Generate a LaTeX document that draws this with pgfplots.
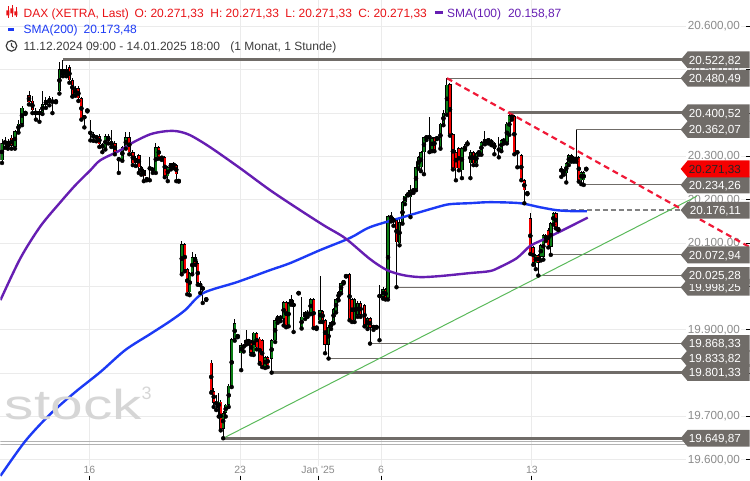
\documentclass[border=0pt]{standalone}
\usepackage{pgfplots}
\usepackage{pgfplotstable}
\pgfplotsset{compat=1.18}
\usepackage{fontspec}
\setmainfont{Liberation Sans}

\definecolor{bull}{RGB}{10,125,20}
\definecolor{bear}{RGB}{245,0,0}
\definecolor{lvl}{RGB}{112,108,104}
\definecolor{smaA}{RGB}{102,30,178}
\definecolor{smaB}{RGB}{28,58,245}
\definecolor{trendred}{RGB}{240,25,55}
\definecolor{trendgreen}{RGB}{90,185,90}
\definecolor{ticktext}{RGB}{140,140,140}
\definecolor{hdrred}{RGB}{232,18,22}
\definecolor{hdrgray}{RGB}{60,60,60}
\definecolor{wmark}{RGB}{214,214,214}
\definecolor{smadash}{RGB}{130,130,130}

\newcommand\lab{\fontsize{11.7bp}{13bp}\selectfont}
\newcommand\hdr{\fontsize{12bp}{14bp}\selectfont}

% hourly candles, x = horizontal position on the time axis
\pgfplotstableread{
x o h l c
1.5 20291 20340 20285 20330
4.5 20330 20345 20320 20335
14.5 20323 20362 20318 20358
18 20358 20385 20355 20376
21.5 20376 20416 20372 20413
25 20400 20403 20398 20401
42 20402 20452 20398 20420
45.5 20418 20438 20412 20430
52 20423 20436 20400 20430
55.5 20427 20429 20425 20427
59 20450 20519 20445 20501
66 20489 20510 20485 20502
75 20443 20462 20440 20457
84 20388 20396 20367 20393
87 20406 20408 20404 20406
96 20342 20350 20335 20347
105 20319 20352 20316 20347
122 20293 20325 20290 20321
125.5 20321 20356 20318 20344
135.5 20284 20300 20278 20296
155.5 20266 20331 20262 20321
167.5 20254 20278 20243 20275
170.5 20273 20286 20270 20284
181.5 20031 20105 20028 20098
189.5 19987 20034 19980 20031
192 20031 20080 20028 20068
216 19727 19750 19715 19734
218.5 19720 19755 19700 19734
223 19671 19712 19649.87 19708
225.5 19708 19730 19700 19727
228.5 19727 19774 19722 19771
231.5 19771 19882 19768 19879
234.5 19879 19925 19875 19916
241 19846 19870 19807 19865
246 19869 19899 19866 19876
248.5 19872 19880 19868 19876
253.5 19847 19896 19842 19893
265 19814 19840 19812 19837
271.5 19833 19880 19801.33 19876
275 19876 19925 19872 19922
277.5 19920 19935 19916 19932
280.5 19925 19934 19920 19931
283.5 19927 19967 19910 19964
288.5 19911 19965 19908 19962
298.5 19985 19986 19984 19985
301.5 19906 19976 19903 19930
305 19930 19944 19925 19941
307.5 19934 19945 19930 19941
310.5 19939 19974 19936 19971
320 19922 20024 19918 19946
328.5 19865 19910 19833.82 19906
331 19906 19920 19902 19918
333.5 19918 19950 19915 19948
336 19943 19973 19940 19971
338.5 19971 19990 19968 19987
341 19987 20011 19984 20008
343.5 20010 20012 20007 20010
346 20024 20025 20023 20024
354.5 19922 19974 19918 19971
357.5 19934 19966 19930 19962
367.5 19906 19930 19902 19927
373.5 19904 19912 19900 19909
383 19976 19998 19972 19994
388 19973 20165 19970 20162
399.5 20100 20160 20095 20148
402.5 20148 20197 20145 20194
405 20194 20213 20190 20210
408 20212 20222 20210 20213
410.5 20206 20234 20160 20222
413.5 20220 20226 20216 20224
416 20224 20287 20222 20275
418.5 20275 20300 20272 20298
421 20275 20312 20266 20310
424 20310 20346 20259 20344
426.5 20342 20349 20338 20346
429.5 20344 20390 20310 20345
432 20316 20345 20312 20342
437 20342 20344 20340 20342
440.5 20321 20378 20318 20376
443.5 20376 20406 20372 20400
447 20400 20480.49 20396 20466
462 20268 20322 20250 20319
465 20319 20328 20316 20321
467.5 20330 20337 20328 20330
470.5 20284 20314 20250 20310
476.5 20284 20310 20280 20307
479 20307 20315 20304 20312
481.5 20307 20336 20304 20333
485 20330 20358 20328 20340
499 20316 20344 20298 20316
501.5 20316 20340 20312 20337
504 20333 20343 20330 20340
507 20333 20380 20330 20376
509.5 20353 20400.52 20350 20395
527.5 20215 20217 20213 20215
536 20054 20075 20040 20072
541 20068 20098 20060 20095
543.5 20068 20121 20062 20118
551 20091 20149 20072.94 20146
553.5 20146 20172 20143 20169
558.5 20132 20134 20130 20132
561.5 20268 20278 20253 20268
566.5 20261 20287 20240 20284
569 20284 20306 20280 20303
571.5 20291 20306 20288 20303
576.5 20291 20362.07 20288 20298
581.5 20245 20267 20236 20264
584 20245 20266 20234.26 20264
586.5 20271.33 20273 20270 20271.33
}\upcandles

\pgfplotstableread{
x o h l c
7.5 20335 20340 20318 20322
11 20343 20350 20318 20324
28.5 20441 20450 20420 20425
32 20429 20440 20400 20406
35.5 20406 20412 20385 20395
39 20404 20410 20380 20396
49 20434 20440 20418 20423
62.5 20501 20522.82 20485 20489
69 20506 20510 20470 20476
72 20476 20480 20438 20443
78 20457 20462 20428 20434
81 20434 20438 20385 20388
90 20358 20383 20337 20351
93 20351 20356 20336 20342
99 20347 20352 20322 20328
102 20328 20332 20310 20319
108 20347 20352 20330 20335
111 20335 20360 20322 20326
114.5 20330 20335 20305 20310
118.5 20294 20296 20262 20293
129 20344 20356 20305 20310
132.5 20310 20314 20280 20284
138.5 20303 20305 20262 20275
141 20275 20278 20258 20264
143.5 20268 20272 20243 20254
146.5 20248 20250 20245 20247
149.5 20273 20298 20245 20272
152.5 20273 20276 20262 20266
158.5 20321 20324 20295 20298
161.5 20298 20300 20292 20296
164.5 20298 20300 20252 20254
173.5 20284 20287 20273 20277
176 20280 20282 20243 20259
178.5 20244 20245 20242 20243
184.5 20098 20100 20035 20038
187 20040 20042 19982 19987
195 20068 20075 20050 20054
197.5 20054 20058 20004 20008
200 20008 20012 19985 19999
202.5 19999 20000 19962 19992
206 19971 19973 19969 19970
211 19824 19830 19755 19759
213.5 19759 19765 19722 19732
220.5 19734 19738 19668 19669
237.5 19886 19888 19883 19885
243.5 19865 19868 19850 19858
251 19872 19876 19843 19847
256.5 19893 19896 19855 19860
259.5 19880 19884 19822 19826
262 19876 19880 19814 19816
267.5 19837 19840 19814 19818
286 19964 19966 19906 19911
291 19971 19980 19958 19962
293.5 19962 19968 19895 19953
313.5 19971 19974 19904 19906
316.5 19906 19908 19902 19904
322.5 19943 19946 19918 19922
325 19922 19925 19846 19865
349.5 20029 20031 19922 19925
352 19971 19974 19918 19922
360.5 19962 19966 19930 19934
364.5 19957 19960 19908 19911
370 19927 19930 19868.33 19904
376.5 19907 19908 19905 19906
379.5 19980 20003 19876 19976
385.5 19994 19997 19970 19973
391 20162 20171 20150 20157
393.5 20157 20160 20140 20148
396.5 20153 20155 19998.25 20102
434.5 20344 20346 20312 20316
450 20466 20470 20348 20351
453 20351 20354 20270 20273
456 20310 20314 20245 20273
459 20319 20322 20268 20273
473.5 20310 20312 20280 20284
488.5 20340 20343 20330 20335
491.5 20337 20340 20326 20330
494.5 20330 20333 20305 20317
512 20395 20398 20385 20388
514.5 20393 20396 20305 20310
517.5 20312 20314 20275 20307
521.5 20303 20306 20245 20248
524.5 20245 20248 20192 20222
530.5 20157 20169 20075 20077
533.5 20091 20094 20050 20054
538.5 20072 20075 20025.28 20055
546 20118 20121 20105 20109
548.5 20130 20135 20090 20095
556 20169 20172 20134 20137
564 20268 20272 20258 20261
574 20298 20302 20288 20291
579 20298 20301 20242 20245
}\downcandles

\pgfplotsset{
  wick/.style={only marks, mark=none, forget plot,
    error bars/.cd, y dir=plus, y explicit, error mark=none,
    error bar style={draw=black, line width=0.9bp, solid}},
  body/.style 2 args={only marks, mark=none, forget plot,
    error bars/.cd, y dir=both, y explicit, error mark=none,
    error bar style={draw=#1, line width=#2, solid}},
}

% price tag on the right edge: price, fill, text colour, label
\newcommand\tagbox[4]{%
  \begingroup
    \pgfkeys{/pgf/fpu=true, /pgf/fpu/output format=fixed}%
    \pgfmathparse{(#1-19553.9)*0.434}%
    \xdef\yy{\pgfmathresult}%
  \endgroup
  \begin{scope}[shift={(0,\yy bp)}]
    \fill[#2] (681bp,0) -- (688bp,8.4bp) -- (750bp,8.4bp) -- (750bp,-8.4bp) -- (688bp,-8.4bp) -- cycle;
    \node[anchor=base east, text=#3, font=\lab, inner sep=0pt] at (741.5bp,-4.3bp) {#4};
  \end{scope}}

\begin{document}
\begin{tikzpicture}
\begin{axis}[
  width=750bp, height=480bp, scale only axis,
  xmin=0, xmax=750, ymin=19553.9, ymax=20659.9,
  axis line style={draw=none},
  xtick={89,240,318,381,532},
  xticklabels={16,23,Jan \textquotesingle25,6,13},
  ytick={19600,19700,...,20600},
  scaled y ticks=false,
  xtick pos=left, ytick pos=right, yticklabel pos=right,
  tick align=inside, major tick length=4bp,
  tick style={black, line width=0.8bp},
  grid=major, major grid style={black!8, line width=0.9bp},
  xticklabel style={anchor=base, yshift=6bp, font=\fontsize{10.5bp}{12bp}\selectfont,
    text=ticktext, fill=white, inner sep=1bp},
  yticklabel style={anchor=east, xshift=-8bp, font=\lab, text=ticktext, fill=white, inner sep=1.5bp,
    /pgf/number format/fixed, /pgf/number format/fixed zerofill,
    /pgf/number format/precision=2, /pgf/number format/1000 sep={.},
    /pgf/number format/use comma, /pgf/number format/assume math mode=true},
]

% support and resistance levels
\addplot[gray!60, line width=1bp] coordinates {(0,19641.5) (690,19641.5)};
\addplot[gray!60, line width=1bp] coordinates {(0,19636.5) (690,19636.5)};
\addplot[lvl, line width=3bp] coordinates {(62.5,20522.82) (690,20522.82)};
\addplot[lvl, line width=1bp] coordinates {(447,20480.49) (690,20480.49)};
\addplot[lvl, line width=3bp] coordinates {(509.5,20400.52) (690,20400.52)};
\addplot[lvl, line width=1bp] coordinates {(576.5,20362.07) (690,20362.07)};
\addplot[lvl, line width=1bp] coordinates {(584,20234.26) (690,20234.26)};
\addplot[lvl, line width=1bp] coordinates {(551,20072.94) (690,20072.94)};
\addplot[lvl, line width=1bp] coordinates {(538.5,20025.28) (690,20025.28)};
\addplot[lvl, line width=1bp] coordinates {(396.5,19998.25) (690,19998.25)};
\addplot[lvl, line width=1bp] coordinates {(370,19868.33) (690,19868.33)};
\addplot[lvl, line width=1bp] coordinates {(328.5,19833.82) (690,19833.82)};
\addplot[lvl, line width=3bp] coordinates {(271.5,19801.33) (690,19801.33)};
\addplot[lvl, line width=3bp] coordinates {(223,19649.87) (690,19649.87)};
\addplot[smadash, line width=2.7bp, dash pattern=on 5bp off 3bp] coordinates {(555,20176.11) (690,20176.11)};

% candles
\addplot[wick] table[x=x, y=l, y error plus expr={\thisrow{h}-\thisrow{l}}] {\upcandles};
\addplot[wick] table[x=x, y=l, y error plus expr={\thisrow{h}-\thisrow{l}}] {\downcandles};
\addplot[body={black}{3.4bp}] table[x=x, y expr={(\thisrow{o}+\thisrow{c})/2},
  y error expr={max(abs(\thisrow{c}-\thisrow{o})/2,1.2)}] {\upcandles};
\addplot[body={black}{3.4bp}] table[x=x, y expr={(\thisrow{o}+\thisrow{c})/2},
  y error expr={max(abs(\thisrow{c}-\thisrow{o})/2,1.2)}] {\downcandles};
\addplot[body={bull}{1.8bp}] table[x=x, y expr={(\thisrow{o}+\thisrow{c})/2},
  y error expr={max(abs(\thisrow{c}-\thisrow{o})/2-1.4,0)}] {\upcandles};
\addplot[body={bear}{1.8bp}] table[x=x, y expr={(\thisrow{o}+\thisrow{c})/2},
  y error expr={max(abs(\thisrow{c}-\thisrow{o})/2-1.4,0)}] {\downcandles};

% moving averages
\addplot[smaB, line width=2.4bp, smooth] coordinates {
(0,19563.2) (25,19643.8) (50,19706) (75,19756.7) (100,19802.7) (125,19853.5)
(150,19890.4) (170,19920.3) (185,19945.7) (203,19984.8) (237,20010.2) (270,20037.8)
(290,20053.9) (320,20083.9) (350,20112) (370,20136.9) (403,20159.9) (437,20182.9)
(450,20189.9) (470,20192.2) (490,20194.5) (520,20192.2) (540,20182.9) (557,20176)
(573,20173.8) (587,20173.5)};
\addplot[smaA, line width=2.4bp, smooth] coordinates {
(0,19968.7) (20,20065.5) (40,20139) (60,20194.5) (75,20233.7) (90,20268.2)
(100,20291.3) (120,20314.3) (133,20332.7) (150,20351.2) (165,20358.1) (177,20358.1)
(190,20348.9) (210,20321.2) (240,20272.8) (270,20222.1) (300,20176.1) (325,20139.2)
(345,20111.6) (370,20063.2) (387,20037.8) (403,20026.3) (420,20021.7) (440,20024)
(470,20030.9) (490,20035.5) (500,20044.7) (517,20065.5) (530,20093.1) (540,20104.6)
(557,20123.1) (573,20141.5) (588,20158.9)};

% trend lines
\addplot[trendgreen, line width=1bp] coordinates {(223,19649.87) (697,20208)};
\addplot[trendred, line width=2.2bp, dash pattern=on 6bp off 4bp] coordinates {(447,20480.49) (750,20091)};
\end{axis}

% price tags, lowest first so that upper tags lie on top
\tagbox{19649.87}{lvl}{white}{19.649,87}
\tagbox{19801.33}{lvl}{white}{19.801,33}
\tagbox{19833.82}{lvl}{white}{19.833,82}
\tagbox{19868.33}{lvl}{white}{19.868,33}
\tagbox{19998.25}{lvl}{white}{19.998,25}
\tagbox{20025.28}{lvl}{white}{20.025,28}
\tagbox{20072.94}{lvl}{white}{20.072,94}
\tagbox{20176.11}{lvl}{white}{20.176,11}
\tagbox{20234.26}{lvl}{white}{20.234,26}
\tagbox{20271.33}{bear}{black!85}{20.271,33}
\tagbox{20362.07}{lvl}{white}{20.362,07}
\tagbox{20400.52}{lvl}{white}{20.400,52}
\tagbox{20480.49}{lvl}{white}{20.480,49}
\tagbox{20522.82}{lvl}{white}{20.522,82}

% watermark
\node[anchor=base west, inner sep=0pt, text=wmark, xscale=1.4,
  font=\fontsize{42bp}{44bp}\selectfont] at (4bp,60bp) {stock};
\node[anchor=base west, inner sep=0pt, text=wmark,
  font=\fontsize{18bp}{19bp}\selectfont] at (141bp,80bp) {3};

% header
\draw[hdrred, line width=0.9bp] (7.5bp,474bp) -- (7.5bp,462bp) (11.5bp,475bp) -- (11.5bp,463bp) (15.5bp,473bp) -- (15.5bp,463bp);
\fill[hdrred] (6bp,465bp) rectangle (9bp,470bp) (10bp,467bp) rectangle (13bp,472bp) (14bp,465bp) rectangle (17bp,469bp);
\node[anchor=base west, inner sep=0pt, text=hdrred, font=\hdr] at (23bp,463bp) {DAX (XETRA, Last)};
\node[anchor=base west, inner sep=0pt, text=hdrred, font=\hdr] at (134bp,463bp) {O: 20.271,33};
\node[anchor=base west, inner sep=0pt, text=hdrred, font=\hdr] at (210bp,463bp) {H: 20.271,33};
\node[anchor=base west, inner sep=0pt, text=hdrred, font=\hdr] at (285bp,463bp) {L: 20.271,33};
\node[anchor=base west, inner sep=0pt, text=hdrred, font=\hdr] at (358bp,463bp) {C: 20.271,33};
\draw[smaA, line width=3bp] (435bp,468bp) -- (443bp,468bp);
\node[anchor=base west, inner sep=0pt, text=smaA, font=\hdr] at (447bp,463bp) {SMA(100)};
\node[anchor=base west, inner sep=0pt, text=smaA, font=\hdr] at (508bp,463bp) {20.158,87};
\draw[smaB, line width=3bp] (8bp,451bp) -- (14bp,451bp);
\node[anchor=base west, inner sep=0pt, text=smaB, font=\hdr] at (23bp,447bp) {SMA(200)};
\node[anchor=base west, inner sep=0pt, text=smaB, font=\hdr] at (83bp,447bp) {20.173,48};
\draw[hdrgray, line width=1.2bp] (11bp,434.5bp) circle (5.3bp);
\draw[hdrgray, line width=1.1bp] (11bp,437.5bp) -- (11bp,434.5bp) -- (13.5bp,432.5bp);
\node[anchor=base west, inner sep=0pt, text=hdrgray, font=\hdr] at (23bp,430bp) {11.12.2024 09:00 - 14.01.2025 18:00};
\node[anchor=base west, inner sep=0pt, text=hdrgray, font=\hdr] at (230bp,430bp) {(1 Monat, 1 Stunde)};
\end{tikzpicture}
\end{document}
